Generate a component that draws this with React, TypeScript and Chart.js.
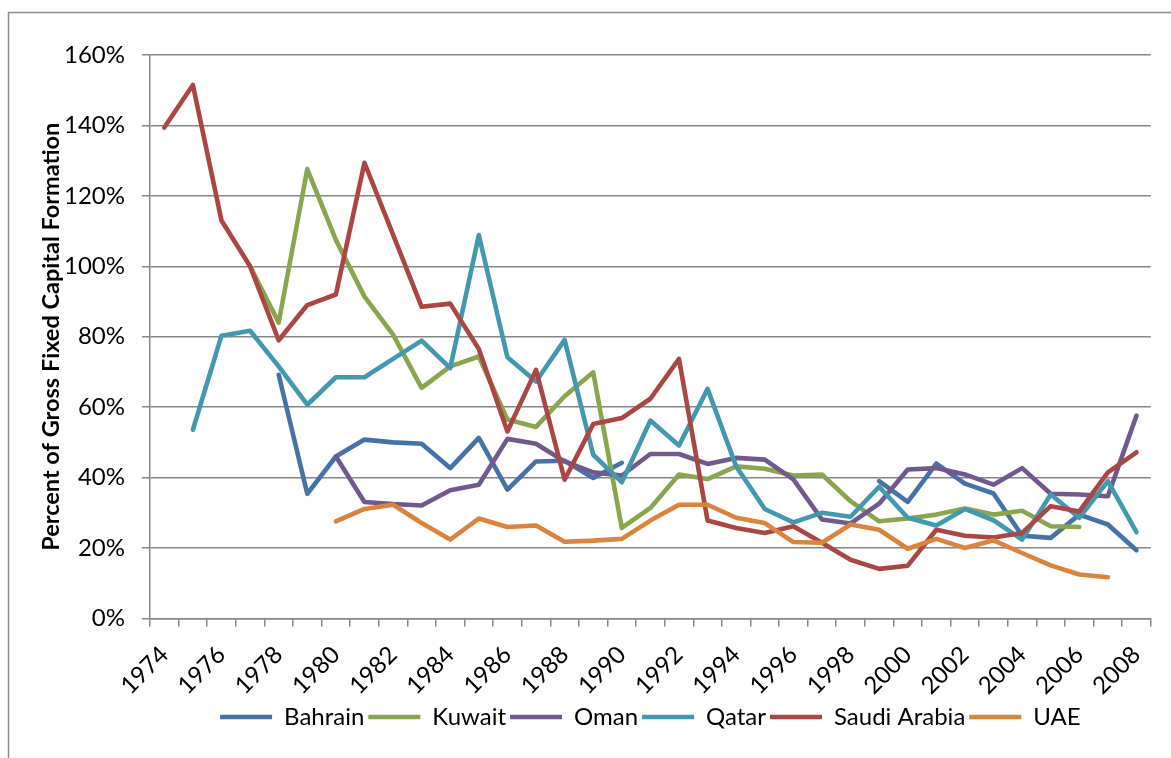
import React, { useEffect, useRef } from "react";
import { Chart, registerables } from "chart.js";

Chart.register(...registerables);

const years = [
  "1974", "1975", "1976", "1977", "1978", "1979", "1980", "1981", "1982", "1983",
  "1984", "1985", "1986", "1987", "1988", "1989", "1990", "1991", "1992", "1993",
  "1994", "1995", "1996", "1997", "1998", "1999", "2000", "2001", "2002", "2003",
  "2004", "2005", "2006", "2007", "2008",
];

const bahrain = [
  null, null, null, null, 69.2, 35.4, 46, 50.8, 50, 49.6,
  42.7, 51.3, 36.6, 44.6, 44.8, 39.9, 44.2, null, null, null,
  null, null, null, null, null, 39, 33.1, 44, 38.3, 35.5,
  23.5, 22.9, 29.5, 26.7, 19.4,
];

const kuwait = [
  null, null, null, 100, 84, 127.6, 107.5, 91.4, 80.6, 65.5,
  71.6, 74.4, 56.5, 54.4, 63.1, 69.9, 25.7, 31.4, 40.9, 39.6,
  43.2, 42.5, 40.6, 40.9, 33.3, 27.6, 28.4, 29.5, 31.2, 29.5,
  30.6, 26.2, 26, null, null,
];

const oman = [
  null, null, null, null, null, null, 46, 33.1, 32.5, 32.1,
  36.4, 38, 51, 49.6, 44.6, 41.5, 40.6, 46.7, 46.7, 43.9,
  45.6, 45.1, 39.5, 28.1, 27, 32.6, 42.3, 42.7, 40.9, 38,
  42.7, 35.4, 35.2, 34.7, 57.6,
];

const qatar = [
  null, 53.6, 80.3, 81.7, 71.6, 60.7, 68.5, 68.5, 73.7, 78.9,
  71.1, 108.9, 74.2, 67.3, 79.1, 46.5, 38.7, 56.2, 49.1, 65.2,
  43.2, 31.1, 27.3, 30, 28.9, 37.4, 28.6, 26.4, 31.1, 27.9,
  22.4, 35.2, 28.6, 39, 24.5,
];

const saudiArabia = [
  139.4, 151.5, 113, 100, 79, 89, 92, 129.4, 109, 88.5,
  89.4, 76.5, 53.1, 70.6, 39.4, 55.2, 56.9, 62.4, 73.7, 27.8,
  25.7, 24.3, 26.2, 21.5, 16.7, 14.1, 15, 25.2, 23.5, 23,
  24.3, 31.9, 30.4, 41.5, 47.2,
];

const uae = [
  null, null, null, null, null, null, 27.6, 31.1, 32.3, 27.1,
  22.4, 28.4, 26, 26.4, 21.8, 22.1, 22.6, 27.8, 32.3, 32.3,
  28.6, 27.1, 21.7, 21.5, 26.7, 25.2, 19.8, 22.6, 20, 22.2,
  18.6, 15.1, 12.5, 11.7, null,
];

const seriesNames = ["Bahrain", "Kuwait", "Oman", "Qatar", "Saudi Arabia", "UAE"];
const seriesColors = ["#4572A7", "#89A54E", "#71588F", "#4198AF", "#AA4643", "#DB843D"];
const seriesData = [bahrain, kuwait, oman, qatar, saudiArabia, uae];

const yMin = 0;
const yMax = 160;
const yStep = 20;
const yTitle = "Percent of Gross Fixed Capital Formation";

const FONT = "Lato";
const GRID = "#868686";

export default function App() {
  const ref = useRef<HTMLCanvasElement>(null);

  useEffect(() => {
    const frame = {
      id: "frame",
      beforeDraw(chart: any) {
        const ctx = chart.ctx;
        ctx.save();
        ctx.strokeStyle = "#8a8a8a";
        ctx.lineWidth = 1.5;
        ctx.beginPath();
        ctx.moveTo(8.5, 758);
        ctx.lineTo(8.5, 12.5);
        ctx.lineTo(1171, 12.5);
        ctx.stroke();
        ctx.restore();
      },
    };

    const datasets = seriesNames.map((name, i) => ({
      label: name,
      data: seriesData[i],
      borderColor: seriesColors[i],
      backgroundColor: seriesColors[i],
      borderWidth: 4.6,
      pointRadius: 0,
      pointHoverRadius: 0,
      tension: 0,
      borderJoinStyle: "round" as const,
      borderCapStyle: "round" as const,
      spanGaps: false,
      order: seriesNames.length - i,
    }));

    const chart = new Chart(ref.current!, {
      type: "line",
      data: { labels: years, datasets },
      plugins: [frame],
      options: {
        animation: false,
        responsive: false,
        layout: { padding: { left: 0, right: 11, top: 55, bottom: 19 } },
        plugins: {
          tooltip: { enabled: false },
          legend: {
            position: "bottom",
            fullSize: false,
            labels: {
              usePointStyle: true,
              pointStyle: "line",
              pointStyleWidth: 52,
              padding: 4,
              color: "#000",
              font: { family: FONT, size: 24 },
              sort: (a: any, b: any) => a.datasetIndex - b.datasetIndex,
            },
          },
        },
        scales: {
          x: {
            type: "category",
            offset: true,
            ticks: {
              autoSkip: false,
              maxRotation: 45,
              minRotation: 45,
              color: "#000",
              font: { family: FONT, size: 24 },
              padding: 14,
              callback: (_v: any, i: number) => (i % 2 === 0 ? years[i] : ""),
            },
            grid: {
              offset: true,
              drawOnChartArea: false,
              drawTicks: true,
              tickLength: 8,
              color: GRID,
              lineWidth: 1.5,
            },
            border: { color: GRID, width: 1.5 },
            afterFit: (s: any) => {
              s.height = 82.5;
            },
          },
          y: {
            min: yMin,
            max: yMax,
            ticks: {
              stepSize: yStep,
              color: "#000",
              font: { family: FONT, size: 24 },
              padding: 17,
              callback: (v: any) => v + "%",
            },
            grid: { color: GRID, lineWidth: 1.5, tickLength: 8 },
            border: { color: GRID, width: 1.5 },
            title: {
              display: true,
              text: yTitle,
              color: "#000",
              font: { family: FONT, size: 23.5, weight: "bold" },
              padding: { top: 37, bottom: 0 },
            },
            afterFit: (s: any) => {
              s.width = 150;
            },
          },
        },
      },
    });
    return () => chart.destroy();
  }, []);

  return (
    <div style={{ position: "absolute", left: 0, top: 0, width: 1171, height: 758, background: "#fff" }}>
      <canvas ref={ref} width={1171} height={758} style={{ display: "block" }} />
    </div>
  );
}
